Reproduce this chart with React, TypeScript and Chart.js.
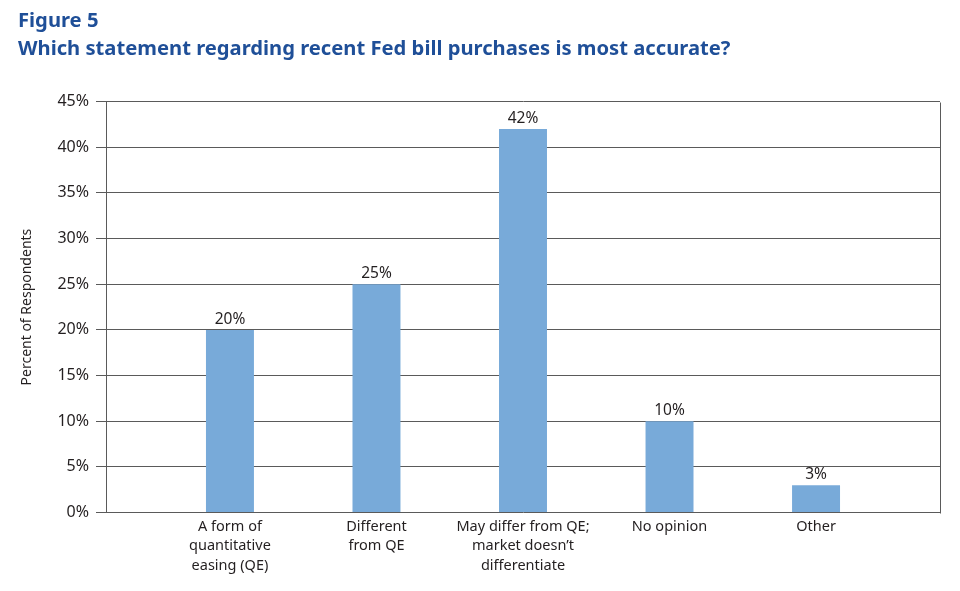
import React, { useEffect, useRef } from "react";
import { Chart, registerables } from "chart.js";

Chart.register(...registerables);

const categories: string[][] = [
  ["A form of", "quantitative", "easing (QE)"],
  ["Different", "from QE"],
  ["May differ from QE;", "market doesn\u2019t", "differentiate"],
  ["No opinion"],
  ["Other"],
];
const values: number[] = [20, 25, 42, 10, 3];
const yTicks: number[] = [0, 5, 10, 15, 20, 25, 30, 35, 40, 45];
const titleLines: string[] = [
  "Figure 5",
  "Which statement regarding recent Fed bill purchases is most accurate?",
];
const yAxisTitle = "Percent of Respondents";

const FONT = "'Noto Sans', Roboto, sans-serif";
const TEXT = "#231f20";
const GRID = "#5a5a5a";
const BAR = "#78aad9";
const TITLE = "#1f4f98";

const frame = {
  id: "frame",
  afterDraw(chart: any) {
    const { ctx, chartArea } = chart;
    ctx.save();
    ctx.strokeStyle = GRID;
    ctx.lineWidth = 1;
    ctx.beginPath();
    ctx.moveTo(Math.round(chartArea.right) + 0.5, Math.round(chartArea.top) + 0.5);
    ctx.lineTo(Math.round(chartArea.right) + 0.5, Math.round(chartArea.bottom) + 0.5);
    ctx.stroke();
    ctx.restore();
  },
};

const dataLabels = {
  id: "dataLabels",
  afterDatasetsDraw(chart: any) {
    const { ctx } = chart;
    const meta = chart.getDatasetMeta(0);
    ctx.save();
    ctx.font = `15.5px ${FONT}`;
    ctx.fillStyle = TEXT;
    ctx.textAlign = "center";
    ctx.textBaseline = "bottom";
    meta.data.forEach((el: any, i: number) => {
      ctx.fillText(values[i] + "%", el.x, el.y - 3);
    });
    ctx.restore();
  },
};

export default function App() {
  const ref = useRef<HTMLCanvasElement>(null);
  useEffect(() => {
    if (!ref.current) return;
    const chart = new Chart(ref.current, {
      type: "bar",
      data: {
        datasets: [
          {
            data: values.map((v, i) => ({ x: i, y: v })),
            backgroundColor: BAR,
            borderWidth: 0,
            categoryPercentage: 1,
            barPercentage: 0.387,
          },
        ],
      },
      options: {
        animation: false,
        responsive: true,
        maintainAspectRatio: false,
        layout: { padding: { left: 18, right: 20, top: 0, bottom: 11 } },
        plugins: {
          legend: { display: false },
          tooltip: { enabled: false },
          title: {
            display: true,
            text: titleLines,
            align: "start",
            color: TITLE,
            font: { family: FONT, size: 20.2, weight: "bold", lineHeight: 1.4 },
            padding: { top: 7, bottom: 38 },
          },
        },
        scales: {
          x: {
            type: "linear",
            offset: false,
            min: -0.846,
            max: 4.846,
            grid: { display: false, drawTicks: false },
            border: { display: false },
            ticks: {
              stepSize: 1,
              autoSkip: false,
              maxRotation: 0,
              padding: 5,
              color: TEXT,
              font: { family: FONT, size: 14.5, lineHeight: 1.32 },
              callback: (v: any) =>
                Number.isInteger(v) && v >= 0 && v < categories.length
                  ? categories[v]
                  : "",
            },
          },
          y: {
            min: 0,
            max: 45,
            afterBuildTicks: (axis: any) => {
              axis.ticks = yTicks.map((v) => ({ value: v }));
            },
            afterFit: (axis: any) => {
              axis.width = 88;
            },
            grid: { color: GRID, lineWidth: 1, tickLength: 10 },
            border: { color: GRID, width: 1 },
            ticks: {
              padding: 7,
              color: TEXT,
              font: { family: FONT, size: 16 },
              callback: (v: any) => v + "%",
            },
            title: {
              display: true,
              text: yAxisTitle,
              color: TEXT,
              font: { family: FONT, size: 14 },
              padding: { top: 1, bottom: 10 },
            },
          },
        },
      },
      plugins: [frame, dataLabels],
    });
    return () => chart.destroy();
  }, []);
  return (
    <div style={{ position: "fixed", left: 0, top: 0, width: 960, height: 591, background: "#fff" }}>
      <canvas ref={ref} />
    </div>
  );
}
